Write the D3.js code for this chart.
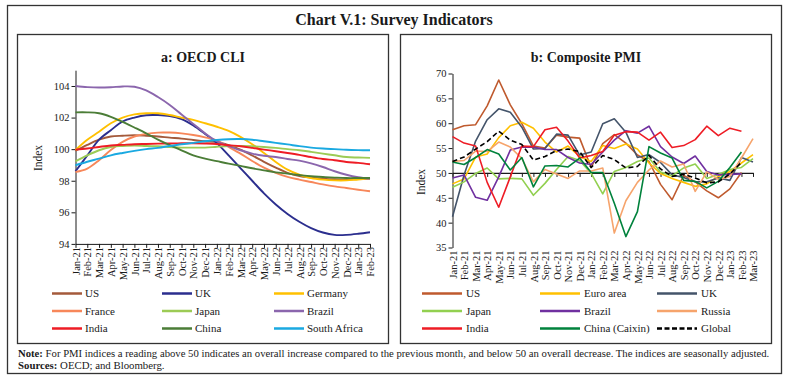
<!DOCTYPE html>
<html><head><meta charset="utf-8">
<script src="https://cdn.jsdelivr.net/npm/d3@7"></script>
<style>
body{margin:0;background:#fff}
svg{display:block}
text{font-family:"Liberation Serif","DejaVu Serif",serif;fill:#1a1a1a}
</style>
</head><body>
<svg id="c" width="788" height="387"></svg>
<script>
// ---------- DATA ----------
const cliMonths = ["Jan-21","Feb-21","Mar-21","Apr-21","May-21","Jun-21","Jul-21","Aug-21","Sep-21","Oct-21","Nov-21","Dec-21","Jan-22","Feb-22","Mar-22","Apr-22","May-22","Jun-22","Jul-22","Aug-22","Sep-22","Oct-22","Nov-22","Dec-22","Jan-23","Feb-23"];
const cliTicks = [94,96,98,100,102,104];
const cliUS = [99.9,100.27,100.6,100.8,100.85,100.88,100.85,100.8,100.73,100.67,100.58,100.5,100.45,100.25,99.97,99.6,99.2,98.83,98.5,98.3,98.2,98.13,98.09,98.09,98.1,98.13];
const cliUK = [98.6,99.6,100.6,101.2,101.75,102.0,102.15,102.16,102.1,101.9,101.5,100.96,100.38,99.6,98.8,98.0,97.2,96.5,95.9,95.4,95.0,94.72,94.57,94.57,94.64,94.74];
const cliGermany = [99.95,100.6,101.1,101.64,102.0,102.2,102.27,102.27,102.16,102.0,101.85,101.64,101.42,101.16,100.78,100.31,99.76,99.19,98.7,98.38,98.17,98.07,98.02,98.02,98.08,98.13];
const cliFrance = [98.55,98.77,99.3,99.95,100.46,100.8,100.97,101.05,101.05,101.0,100.9,100.75,100.55,100.14,99.72,99.25,98.83,98.5,98.24,98.07,97.92,97.77,97.64,97.54,97.43,97.33];
const cliJapan = [99.23,99.6,99.93,100.14,100.2,100.23,100.2,100.18,100.14,100.1,100.1,100.1,100.15,100.19,100.2,100.18,100.14,100.08,100.0,99.93,99.83,99.72,99.61,99.5,99.47,99.45];
const cliBrazil = [104.0,103.93,103.9,103.92,103.97,103.95,103.72,103.3,102.8,102.2,101.6,101.0,100.5,100.2,99.93,99.72,99.58,99.5,99.38,99.27,99.1,98.87,98.6,98.38,98.22,98.12];
const cliIndia = [99.97,100.04,100.14,100.23,100.27,100.31,100.33,100.35,100.36,100.37,100.37,100.36,100.33,100.25,100.18,100.08,99.97,99.87,99.76,99.64,99.5,99.38,99.3,99.19,99.13,99.04];
const cliChina = [102.33,102.33,102.27,102.05,101.73,101.37,101.0,100.6,100.25,99.93,99.6,99.4,99.24,99.08,98.94,98.79,98.66,98.53,98.45,98.36,98.28,98.24,98.2,98.17,98.17,98.17];
const cliSouthAfrica = [98.98,99.2,99.4,99.61,99.76,99.89,100.0,100.08,100.2,100.31,100.4,100.5,100.58,100.63,100.64,100.6,100.5,100.4,100.3,100.19,100.1,100.04,100.0,99.96,99.94,99.93];

const pmiMonths = ["Jan-21","Feb-21","Mar-21","Apr-21","May-21","Jun-21","Jul-21","Aug-21","Sep-21","Oct-21","Nov-21","Dec-21","Jan-22","Feb-22","Mar-22","Apr-22","May-22","Jun-22","Jul-22","Aug-22","Sep-22","Oct-22","Nov-22","Dec-22","Jan-23","Feb-23","Mar-23"];
const pmiTicks = [35,40,45,50,55,60,65,70];
const pmiUS = [58.7,59.5,59.7,63.5,68.7,63.7,59.9,55.4,55.0,57.6,57.2,57.0,51.1,55.9,57.7,56.0,53.6,52.3,47.7,44.6,49.5,48.2,46.4,45.0,46.8,50.1];
const pmiEuro = [47.8,48.8,53.2,53.8,57.1,59.5,60.2,59.0,56.2,54.2,55.4,53.3,52.3,55.5,54.9,55.8,54.8,52.0,49.9,48.9,48.1,47.3,47.8,49.3,50.3,52.0,53.7];
const pmiUK = [41.2,49.6,56.4,60.7,62.9,62.2,59.2,54.8,54.9,57.8,57.6,53.6,54.2,59.9,60.9,58.2,53.1,53.7,52.1,49.6,49.1,48.2,48.2,49.0,48.5,53.1,52.2];
const pmiJapan = [47.1,48.2,49.9,51.0,48.8,48.9,48.8,45.5,47.9,50.7,53.3,52.5,49.9,45.8,50.3,51.1,52.3,53.0,50.2,49.4,51.0,51.8,48.9,49.7,50.7,51.1,52.9];
const pmiBrazil = [49.0,49.6,45.1,44.5,49.2,54.6,55.2,55.2,54.7,54.7,53.1,52.0,51.7,54.2,56.6,58.5,58.0,59.4,55.3,53.2,51.9,53.4,50.3,49.6,49.7,49.8];
const pmiRussia = [52.3,52.5,54.4,54.3,56.2,55.2,52.9,48.2,50.7,49.8,48.9,50.4,50.4,51.0,37.9,44.4,48.1,50.6,52.4,51.2,51.8,46.3,50.2,48.7,49.3,53.0,56.9];
const pmiIndia = [57.3,56.0,55.4,48.1,43.1,49.2,55.4,55.3,58.7,59.2,56.4,53.0,53.5,54.3,57.6,58.3,58.2,56.6,58.2,55.1,55.5,56.7,59.4,57.5,59.0,58.4];
const pmiChina = [52.2,51.7,53.1,54.7,53.8,50.6,53.1,47.2,51.4,51.5,51.2,53.0,50.1,50.1,43.9,37.2,42.2,55.3,54.0,53.0,48.5,48.3,47.0,48.3,51.1,54.2];
const pmiGlobal = [52.3,53.2,54.8,56.3,58.4,56.6,55.7,52.6,53.3,54.5,54.8,54.3,51.1,53.5,52.7,51.0,51.3,53.5,50.8,49.3,49.7,49.0,48.0,48.2,49.8,52.1];

const cliSeries = [
  {name:"US", values:cliUS, color:"#A45A3B"},
  {name:"UK", values:cliUK, color:"#2B2E8E"},
  {name:"Germany", values:cliGermany, color:"#FFC000"},
  {name:"France", values:cliFrance, color:"#F7875A"},
  {name:"Japan", values:cliJapan, color:"#9CCB55"},
  {name:"Brazil", values:cliBrazil, color:"#8B66AD"},
  {name:"India", values:cliIndia, color:"#EE1C25"},
  {name:"China", values:cliChina, color:"#4B7D37"},
  {name:"South Africa", values:cliSouthAfrica, color:"#1AA9E1"}
];
const pmiSeries = [
  {name:"US", values:pmiUS, color:"#BF5A2E"},
  {name:"Euro area", values:pmiEuro, color:"#FFC000"},
  {name:"UK", values:pmiUK, color:"#44546A"},
  {name:"Japan", values:pmiJapan, color:"#92D050"},
  {name:"Brazil", values:pmiBrazil, color:"#7030A0"},
  {name:"Russia", values:pmiRussia, color:"#F6A46C"},
  {name:"India", values:pmiIndia, color:"#EE1C25"},
  {name:"China (Caixin)", values:pmiChina, color:"#00823C"},
  {name:"Global", values:pmiGlobal, color:"#000000", dash:"5,3"}
];

// ---------- FRAME ----------
const svg = d3.select("#c");
svg.append("rect").attr("x",7.5).attr("y",5.5).attr("width",774).attr("height",368)
  .attr("fill","none").attr("stroke","#333").attr("stroke-width",1.3);
svg.append("rect").attr("x",17.5).attr("y",34.5).attr("width",371).attr("height",309)
  .attr("fill","none").attr("stroke","#333").attr("stroke-width",1.3);
svg.append("rect").attr("x",400.5).attr("y",34.5).attr("width",371).attr("height",309)
  .attr("fill","none").attr("stroke","#333").attr("stroke-width",1.3);

svg.append("text").attr("x",394).attr("y",25).attr("text-anchor","middle")
  .style("font-size","16px").style("font-weight","bold").text("Chart V.1: Survey Indicators");
svg.append("text").attr("x",203).attr("y",62).attr("text-anchor","middle")
  .style("font-size","14px").style("font-weight","bold").text("a: OECD CLI");
svg.append("text").attr("x",586).attr("y",62).attr("text-anchor","middle")
  .style("font-size","14px").style("font-weight","bold").text("b: Composite PMI");

function styleAxis(g){
  g.selectAll(".domain").attr("stroke","#1a1a1a").attr("stroke-width",1);
  g.selectAll(".tick line").attr("stroke","#1a1a1a");
  g.selectAll("text").style("font-family",'"Liberation Serif",serif').style("font-size","10.5px").attr("fill","#1a1a1a");
}

// ---------- LEFT: OECD CLI ----------
const xL = d3.scalePoint().domain(cliMonths).range([75.5, 370]);
const yL = d3.scaleLinear().domain([94,105]).range([243.9, 70.2]);

const gyL = svg.append("g").attr("transform","translate(75.5,0)")
  .call(d3.axisLeft(yL).tickValues(cliTicks).tickSize(4).tickPadding(2).tickSizeOuter(0));
styleAxis(gyL);
const gxL = svg.append("g").attr("transform","translate(0,243.9)")
  .call(d3.axisBottom(xL).tickSize(4).tickSizeOuter(0));
styleAxis(gxL);
gxL.selectAll("text").attr("transform","rotate(-90)").attr("x",-3).attr("y",0)
  .attr("dy","0.35em").style("text-anchor","end");

svg.append("text").attr("transform","translate(42,158) rotate(-90)").attr("text-anchor","middle")
  .style("font-size","11.5px").text("Index");

const lineL = d3.line().x((d,i)=>xL(cliMonths[i])).y(d=>yL(d)).curve(d3.curveCatmullRom.alpha(0.5));
svg.append("g").selectAll("path").data(cliSeries).join("path")
  .attr("d",d=>lineL(d.values)).attr("fill","none").attr("stroke",d=>d.color)
  .attr("stroke-width",1.9).attr("stroke-linejoin","round");

// legend left
const legL = svg.append("g");
const colsL = [[52,82,85],[162,192,195],[274,304,307]];
const rowsY = [293.5,311,328.5];
cliSeries.forEach((s,i)=>{
  const c = colsL[i%3], r = rowsY[Math.floor(i/3)];
  legL.append("line").attr("x1",c[0]).attr("x2",c[1]).attr("y1",r).attr("y2",r)
    .attr("stroke",s.color).attr("stroke-width",2.5);
  legL.append("text").attr("x",c[2]).attr("y",r).attr("dy","0.35em").style("font-size","11px").text(s.name);
});

// ---------- RIGHT: Composite PMI ----------
const xR = d3.scalePoint().domain(pmiMonths).range([452.5, 753]);
const yR = d3.scaleLinear().domain([35,70]).range([247.5, 73.5]);

const gyR = svg.append("g").attr("transform","translate(452.5,0)")
  .call(d3.axisLeft(yR).tickValues(pmiTicks).tickSize(4).tickPadding(2).tickSizeOuter(0));
styleAxis(gyR);
const gxR = svg.append("g").attr("transform","translate(0,247.5)")
  .call(d3.axisBottom(xR).tickSize(0).tickSizeOuter(0));
styleAxis(gxR);
gxR.select(".domain").remove();
gxR.selectAll("text").attr("transform","rotate(-90)").attr("x",-3).attr("y",0)
  .attr("dy","0.35em").style("text-anchor","end");
const gx50 = svg.append("g").attr("transform",`translate(0,${yR(50)})`)
  .call(d3.axisBottom(xR).tickSize(4).tickSizeOuter(0).tickFormat(""));
styleAxis(gx50);
gx50.select(".domain").attr("stroke-width",1.2);

svg.append("text").attr("transform","translate(425,182) rotate(-90)").attr("text-anchor","middle")
  .style("font-size","11.5px").text("Index");

const lineR = d3.line().x((d,i)=>xR(pmiMonths[i])).y(d=>yR(d));
svg.append("g").selectAll("path").data(pmiSeries).join("path")
  .attr("d",d=>lineR(d.values)).attr("fill","none").attr("stroke",d=>d.color)
  .attr("stroke-dasharray",d=>d.dash||null)
  .attr("stroke-width",1.6).attr("stroke-linejoin","round");

const legR = svg.append("g");
const colsR = [[422,462,466],[540,580,584],[657,697,701]];
pmiSeries.forEach((s,i)=>{
  const c = colsR[i%3], r = rowsY[Math.floor(i/3)];
  legR.append("line").attr("x1",c[0]).attr("x2",c[1]).attr("y1",r).attr("y2",r)
    .attr("stroke",s.color).attr("stroke-width",2.5).attr("stroke-dasharray",s.dash?"5,2.5":null);
  legR.append("text").attr("x",c[2]).attr("y",r).attr("dy","0.35em").style("font-size","11px").text(s.name);
});

// ---------- FOOTNOTE ----------
const note = svg.append("text").attr("x",18).attr("y",357).style("font-size","10.8px");
note.append("tspan").style("font-weight","bold").text("Note: ");
note.append("tspan").text("For PMI indices a reading above 50 indicates an overall increase compared to the previous month, and below 50 an overall decrease. The indices are seasonally adjusted.");
const nw = note.node().getComputedTextLength();
if (nw > 0) note.style("font-size", (10.8 * 752 / nw).toFixed(2) + "px");
const src = svg.append("text").attr("x",18).attr("y",369).style("font-size","10.8px");
src.append("tspan").style("font-weight","bold").text("Sources: ");
src.append("tspan").text("OECD; and Bloomberg.");
</script>
</body></html>
